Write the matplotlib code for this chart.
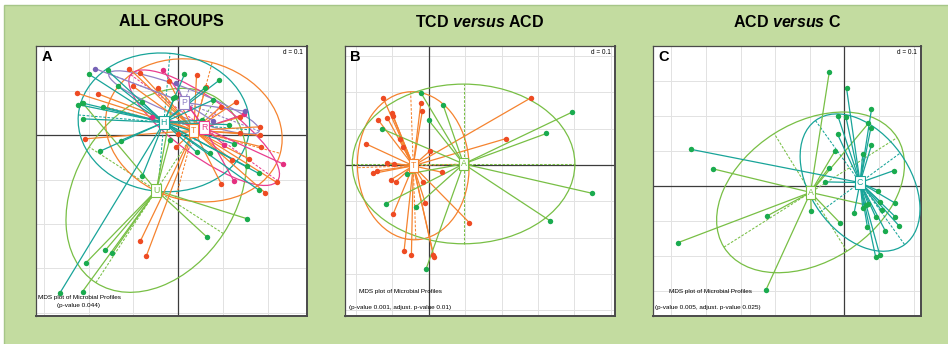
import matplotlib.pyplot as plt
import numpy as np
from matplotlib.patches import Ellipse, Rectangle

plt.rcParams['font.family'] = ['Liberation Sans', 'DejaVu Sans']
plt.rcParams['mathtext.fontset'] = 'custom'
plt.rcParams['mathtext.it'] = 'Liberation Sans:italic:bold'
plt.rcParams['mathtext.rm'] = 'Liberation Sans:bold'

BG = "#c3dca0"
TEAL = "#18a499"
LGREEN = "#78bf45"
GREEN_DOT = "#1aab4f"
ORANGE = "#f5832f"
ORANGE_DOT = "#ee4b23"
PINK = "#e93d8e"
PINK_DOT = "#e42f7f"
PURPLE = "#9282c6"
PURPLE_DOT = "#7662b6"

# ---- panel A: all groups (MDS coordinates) ----
A_H_X = [-0.199, -0.158, -0.135, -0.223, -0.216, -0.214, -0.168, -0.175, -0.129, -0.080,
         -0.008, 0.014, 0.060, 0.077, 0.092, 0.053, 0.113, 0.070, 0.041, 0.124,
         0.153, 0.181, 0.180, -0.265, -0.080]
A_H_Y = [0.137, 0.146, 0.111, 0.069, 0.073, 0.037, 0.064, -0.036, -0.012, 0.074,
         0.086, 0.137, 0.107, 0.079, 0.124, 0.034, 0.024, -0.040, -0.038, -0.019,
         -0.070, -0.124, -0.086, -0.356, -0.091]
A_T_X = [-0.227, -0.179, -0.208, -0.109, -0.086, -0.102, -0.045, -0.021, -0.004, 0.041,
         0.062, 0.095, 0.129, 0.138, 0.183, 0.183, 0.139, 0.120, 0.158, 0.195,
         0.220, 0.096, -0.071, -0.085, 0.000, 0.186]
A_T_Y = [0.095, 0.093, -0.008, 0.150, 0.141, 0.111, 0.107, 0.122, -0.026, 0.135,
         0.109, 0.064, 0.075, 0.041, 0.019, 0.000, 0.005, -0.055, -0.053, -0.130,
         -0.106, -0.109, -0.271, -0.239, 0.002, -0.026]
A_R_X = [-0.034, -0.058, 0.025, 0.124, 0.235, 0.147, 0.102]
A_R_Y = [0.147, 0.041, 0.062, -0.102, -0.065, 0.047, -0.021]
A_P_X = [-0.186, -0.004, 0.077, 0.150]
A_P_Y = [0.150, 0.118, 0.033, 0.054]
A_U_X = [-0.214, -0.207, -0.163, -0.147, 0.064, 0.154, -0.011, -0.214, -0.019]
A_U_Y = [-0.352, -0.288, -0.259, -0.265, -0.229, -0.188, 0.084, 0.073, -0.010]
A_LABELS = ["U", "T", "R", "P", "H"]
A_CX = [-0.049, 0.035, 0.058, 0.013, -0.032]
A_CY = [-0.124, 0.011, 0.017, 0.074, 0.029]
A_ELL_A = [0.248, 0.200, 0.203, 0.180, 0.192]
A_ELL_B = [0.179, 0.158, 0.064, 0.032, 0.156]
A_ELL_ANG = [57, -15, -36, -21, -5]

# ---- panel B: TCD versus ACD ----
B_T_X = [-0.125, -0.138, -0.113, -0.101, -0.097, -0.171, -0.078, -0.070, -0.021, -0.017,
         0.004, -0.113, -0.096, -0.140, -0.151, -0.104, -0.090, -0.015, -0.009, -0.097,
         0.037, 0.112, -0.067, -0.047, 0.013, 0.015, 0.213, 0.282]
B_T_Y = [0.186, 0.124, 0.130, 0.144, 0.135, 0.058, 0.071, 0.049, 0.172, 0.150,
         0.039, 0.006, 0.003, -0.016, -0.023, -0.041, -0.046, -0.046, -0.104, -0.135,
         -0.020, -0.159, -0.236, -0.248, -0.248, -0.254, 0.073, 0.186]
B_A_X = [-0.021, 0.040, 0.000, -0.128, -0.058, -0.116, -0.035, -0.007, 0.323, 0.392, 0.449, 0.332]
B_A_Y = [0.199, 0.165, 0.124, 0.100, -0.025, -0.106, -0.115, -0.287, 0.087, 0.145, -0.078, -0.153]
B_LABELS = ["T", "A"]
B_CX = [-0.042, 0.096]
B_CY = [-0.002, 0.003]
B_ELL_A = [0.204, 0.305]
B_ELL_B = [0.153, 0.220]
B_ELL_ANG = [92, 0]

# ---- panel C: ACD versus C ----
C_C_X = [-0.444, -0.056, 0.006, -0.019, 0.004, 0.078, 0.076, -0.020, 0.078, 0.053,
         0.142, 0.097, 0.147, 0.104, 0.107, 0.147, 0.118, 0.158, 0.066, 0.028,
         0.053, 0.090, 0.102, 0.069, 0.090]
C_C_Y = [0.104, 0.011, 0.278, 0.199, 0.197, 0.218, 0.164, 0.147, 0.116, 0.092,
         0.043, -0.014, -0.050, -0.046, -0.070, -0.089, -0.129, -0.115, -0.117, -0.077,
         -0.065, -0.203, -0.198, -0.053, -0.089]
C_A_X = [-0.044, -0.379, -0.482, -0.223, -0.227, -0.096, -0.013, -0.046, -0.027, 0.069, 0.063]
C_A_Y = [0.324, 0.048, -0.163, -0.086, -0.298, -0.072, -0.106, 0.050, 0.100, 0.178, -0.055]
C_LABELS = ["A", "C"]
C_CX = [-0.098, 0.045]
C_CY = [-0.019, 0.009]
C_ELL_A = [0.295, 0.219]
C_ELL_B = [0.198, 0.143]
C_ELL_ANG = [32, -54]


def draw_group(ax, xs, ys, cx, cy, ea, eb, ang, line_col, dot_col):
    ax.add_patch(Ellipse((cx, cy), 2 * ea, 2 * eb, angle=ang, fill=False,
                         ec=line_col, lw=0.9, zorder=3))
    t = np.deg2rad(ang)
    for (ux, uy), r in (((np.cos(t), np.sin(t)), ea), ((-np.sin(t), np.cos(t)), eb)):
        ax.plot([cx - r * ux, cx + r * ux], [cy - r * uy, cy + r * uy],
                color=line_col, lw=0.75, ls=(0, (2.5, 1.5)), zorder=3)
    for x, y in zip(xs, ys):
        ax.plot([cx, x], [cy, y], color=line_col, lw=0.9, zorder=4)
    ax.plot(xs, ys, "o", color=dot_col, ms=3.9, mew=0, zorder=5)


def draw_label(ax, cx, cy, lab, col):
    ax.text(cx, cy, lab, color=col, fontsize=6.3, ha="center", va="center", zorder=7,
            bbox=dict(boxstyle="square,pad=0.22", fc="white", ec=col, lw=0.8))


def setup_axes(ax, xlim, ylim, letter, lines, text_pos):
    ax.set_xticks(np.arange(-0.6, 0.61, 0.1))
    ax.set_yticks(np.arange(-0.6, 0.61, 0.1))
    ax.set_xlim(*xlim)
    ax.set_ylim(*ylim)
    ax.tick_params(length=0, labelbottom=False, labelleft=False)
    ax.grid(color="#e2e2e2", lw=0.7, zorder=0)
    ax.set_axisbelow(True)
    ax.axhline(0, color="#3c3c3c", lw=0.9, zorder=2)
    ax.axvline(0, color="#3c3c3c", lw=0.9, zorder=2)
    for side, sp in ax.spines.items():
        sp.set_color("#4a4a4a")
        sp.set_linewidth(1.4 if side in ("right", "bottom") else 0.9)
    ax.text(0.02, 0.985, letter, transform=ax.transAxes, fontsize=10.5, fontweight="bold",
            ha="left", va="top", zorder=8)
    ax.text(0.985, 0.99, "d = 0.1", transform=ax.transAxes, fontsize=4.7,
            ha="right", va="top", zorder=8)
    for txt, (px, py) in zip(lines, text_pos):
        ax.text(px, py, txt, transform=ax.transAxes, fontsize=4.6, ha="center",
                va="center", zorder=8)


fig = plt.figure(figsize=(9.48, 3.44), dpi=100)
bg_ax = fig.add_axes([0, 0, 1, 1], zorder=-10)
bg_ax.set_axis_off()
bg_ax.set_xlim(0, 1)
bg_ax.set_ylim(0, 1)
bg_ax.add_patch(Rectangle((4 / 948, -0.01), 1.0, 1 - 5 / 344 + 0.01,
                          fc=BG, ec="#a6c688", lw=1.0))

axA = fig.add_axes([36 / 948, 28 / 344, 271 / 948, 270 / 344])
axB = fig.add_axes([345 / 948, 28 / 344, 270 / 948, 270 / 344])
axC = fig.add_axes([653 / 948, 28 / 344, 268 / 948, 270 / 344])

# panel A
setup_axes(axA, (-0.318, 0.288), (-0.407, 0.201), "A",
           ["MDS plot of Microbial Profiles", "(p-value 0.044)"],
           [(0.16, 0.070), (0.157, 0.040)])
groupsA = [(A_U_X, A_U_Y, LGREEN, GREEN_DOT), (A_T_X, A_T_Y, ORANGE, ORANGE_DOT),
           (A_R_X, A_R_Y, PINK, PINK_DOT), (A_P_X, A_P_Y, PURPLE, PURPLE_DOT),
           (A_H_X, A_H_Y, TEAL, GREEN_DOT)]
for i, (xs, ys, lc, dc) in enumerate(groupsA):
    draw_group(axA, xs, ys, A_CX[i], A_CY[i], A_ELL_A[i], A_ELL_B[i], A_ELL_ANG[i], lc, dc)
for i, (xs, ys, lc, dc) in enumerate(groupsA):
    draw_label(axA, A_CX[i], A_CY[i], A_LABELS[i], lc)

# panel B
setup_axes(axB, (-0.229, 0.511), (-0.416, 0.328), "B",
           ["MDS plot of Microbial Profiles", "(p-value 0.001, adjust. p-value 0.01)"],
           [(0.206, 0.089), (0.204, 0.033)])
groupsB = [(B_T_X, B_T_Y, ORANGE, ORANGE_DOT), (B_A_X, B_A_Y, LGREEN, GREEN_DOT)]
for i, (xs, ys, lc, dc) in enumerate(groupsB):
    draw_group(axB, xs, ys, B_CX[i], B_CY[i], B_ELL_A[i], B_ELL_B[i], B_ELL_ANG[i], lc, dc)
for i, (xs, ys, lc, dc) in enumerate(groupsB):
    draw_label(axB, B_CX[i], B_CY[i], B_LABELS[i], lc)

# panel C
setup_axes(axC, (-0.553, 0.221), (-0.372, 0.399), "C",
           ["MDS plot of Microbial Profiles", "(p-value 0.005, adjust. p-value 0.025)"],
           [(0.213, 0.089), (0.205, 0.033)])
groupsC = [(C_A_X, C_A_Y, LGREEN, GREEN_DOT), (C_C_X, C_C_Y, TEAL, GREEN_DOT)]
for i, (xs, ys, lc, dc) in enumerate(groupsC):
    draw_group(axC, xs, ys, C_CX[i], C_CY[i], C_ELL_A[i], C_ELL_B[i], C_ELL_ANG[i], lc, dc)
for i, (xs, ys, lc, dc) in enumerate(groupsC):
    draw_label(axC, C_CX[i], C_CY[i], C_LABELS[i], lc)

# titles
fig.text(171.5 / 948, 1 - 22 / 344, "ALL GROUPS", fontsize=11.5, fontweight="bold",
         ha="center", va="center")
fig.text(480 / 948, 1 - 22 / 344, r"TCD $\it{versus}$ ACD", fontsize=11.5, fontweight="bold",
         ha="center", va="center")
fig.text(787 / 948, 1 - 22 / 344, r"ACD $\it{versus}$ C", fontsize=11.5, fontweight="bold",
         ha="center", va="center")

fig.savefig("out.png", dpi=100)
